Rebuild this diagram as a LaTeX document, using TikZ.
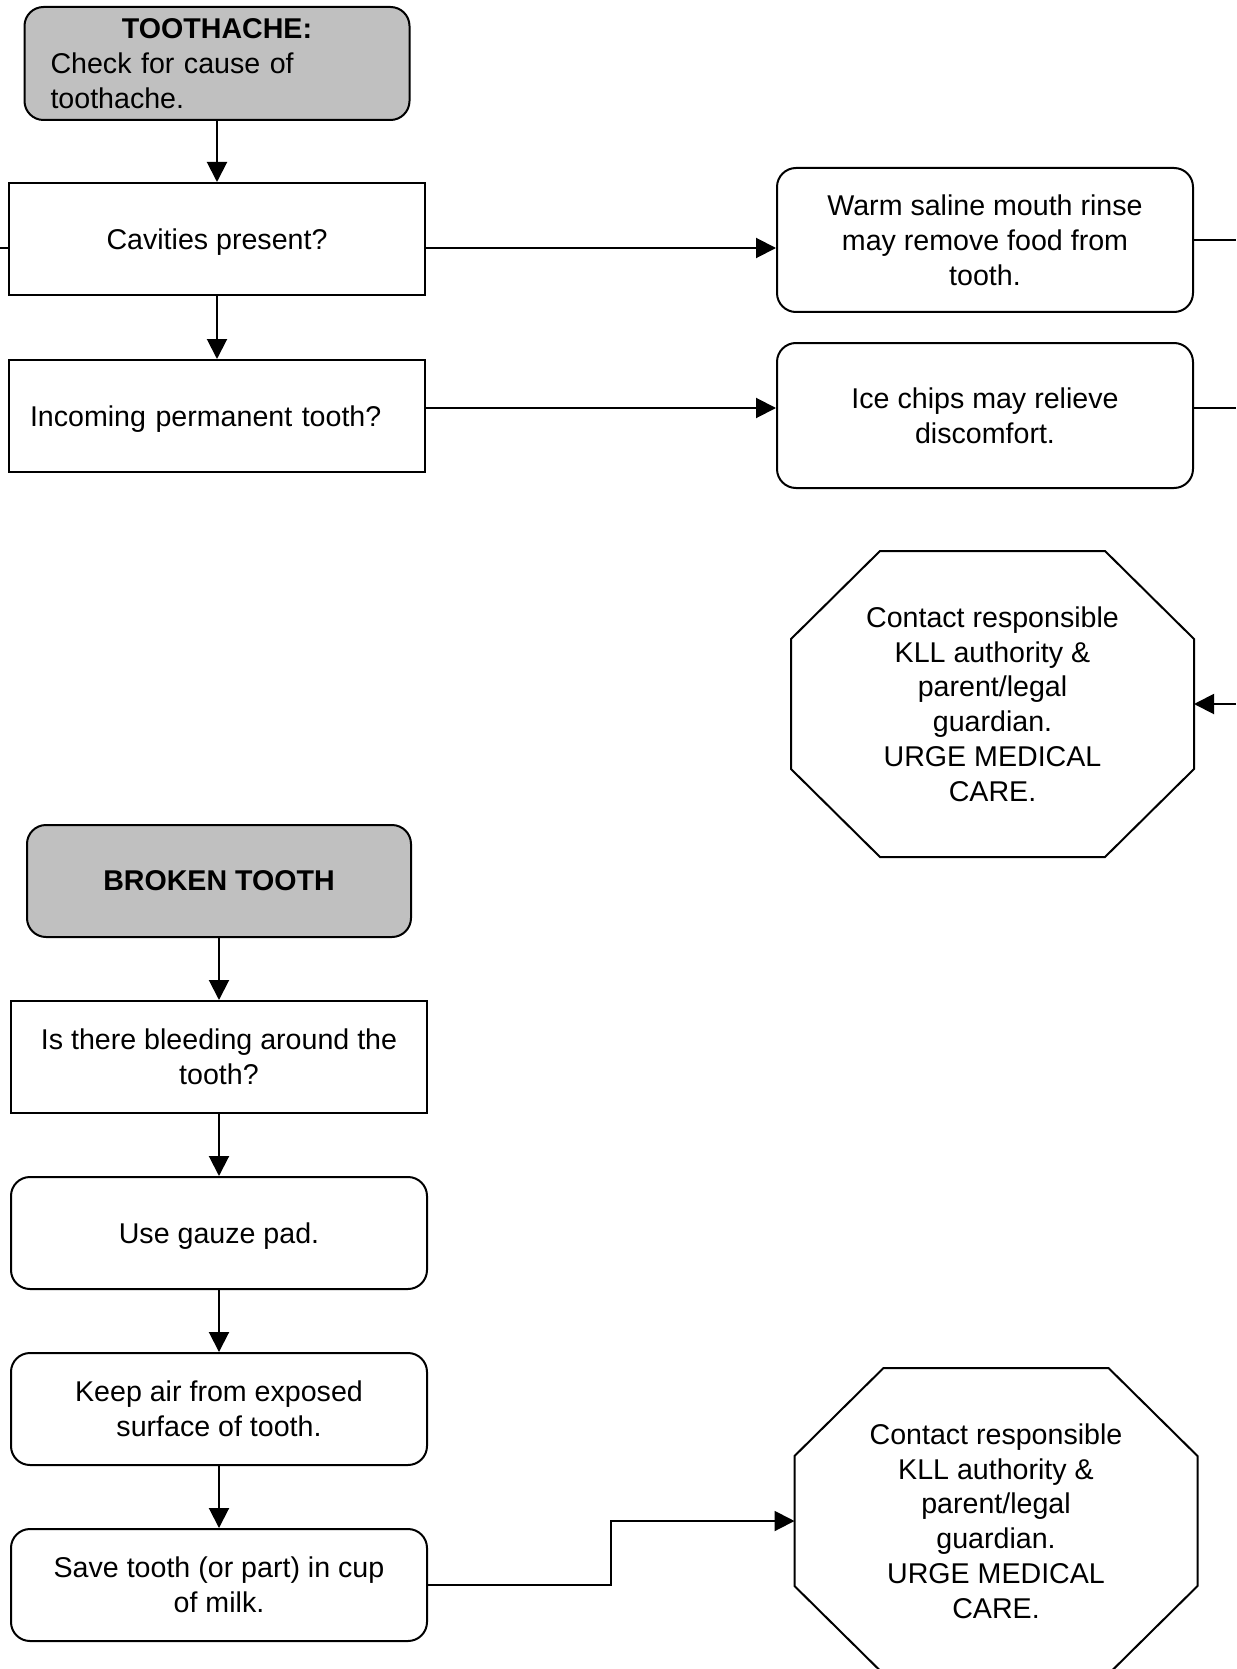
\documentclass[tikz,border=0pt]{standalone}
\usepackage{fontspec}
\setmainfont{Liberation Sans}
\usetikzlibrary{arrows.meta}
\definecolor{headgray}{RGB}{192,192,192}

\begin{document}
\begin{tikzpicture}[x=1pt, y=-1pt, line width=2pt,
  every node/.style={font={\fontsize{28.6pt}{34.8pt}\selectfont}, align=center, inner sep=0pt},
  question/.style={draw, rectangle, minimum width=416pt, minimum height=112pt},
  action/.style={draw, rectangle, rounded corners=19pt, minimum width=416pt, minimum height=112pt},
  header/.style={action, fill=headgray, minimum width=385pt},
  oneline/.style={text depth=0pt},
  stopsign/.style={minimum width=401pt, minimum height=304pt},
  flow/.style={-{Triangle[length=20pt, width=20pt]}}]
\useasboundingbox (0,0) rectangle (1236,1669);
\coordinate (lim) at (0,0);
\coordinate (rim) at (1236,0);

% toothache
\node[header, minimum height=113pt, text width=333pt, align=left] (tooth) at (217,63.5) {\makebox[\hsize]{\bfseries TOOTHACHE:}\\Check for cause of\\toothache.};
\node[question, oneline] (cav) at (217,239) {Cavities present?};
\node[question, oneline, text width=374pt, align=left] (perm) at (217,416) {Incoming permanent tooth?};
\node[action, minimum height=144pt] (rinse) at (985,240) {Warm saline mouth rinse\\may remove food from\\tooth.};
\node[action, minimum height=145pt] (ice) at (985,415.5) {Ice chips may relieve\\discomfort.};
\node[stopsign] (callA) at (992.5,704) {Contact responsible\\KLL authority \&\\parent/legal\\guardian.\\URGE MEDICAL\\CARE.};

% broken tooth
\node[header, minimum width=384pt] (broken) at (219,881) {\bfseries BROKEN TOOTH};
\node[question] (bleed) at (219,1057) {Is there bleeding around the\\tooth?};
\node[action, oneline] (gauze) at (219,1233) {Use gauze pad.};
\node[action] (keep) at (219,1409) {Keep air from exposed\\surface of tooth.};
\node[action] (save) at (219,1585) {Save tooth (or part) in cup\\of milk.};
\node[stopsign] (callB) at (996,1521) {Contact responsible\\KLL authority \&\\parent/legal\\guardian.\\URGE MEDICAL\\CARE.};

% octagons
\foreach \n in {callA,callB}
  \draw ([xshift=89pt]\n.north west) -- ([xshift=-89pt]\n.north east) -- ([yshift=-88pt]\n.north east)
    -- ([yshift=88pt]\n.south east) -- ([xshift=-89pt]\n.south east) -- ([xshift=89pt]\n.south west)
    -- ([yshift=88pt]\n.south west) -- ([yshift=-88pt]\n.north west) -- cycle;

\coordinate (cavL) at ([yshift=-9pt]cav.west);
\coordinate (cavR) at ([yshift=-9pt]cav.east);
\coordinate (permR) at ([yshift=8pt]perm.east);
\coordinate (iceR) at ([yshift=7.5pt]ice.east);
\coordinate (bend) at (611,1521);

\draw[flow] (tooth) -- (cav);
\draw[flow] (cav) -- (perm);
\draw (cavL) -- (cavL -| lim);
\draw[flow] (cavR) -- (cavR -| rinse.west);
\draw[flow] (permR) -- (permR -| ice.west);
\draw (rinse.east) -- (rinse.east -| rim);
\draw (iceR) -- (iceR -| rim);
\draw[flow] (callA.east -| rim) -- (callA.east);

\draw[flow] (broken) -- (bleed);
\draw[flow] (bleed) -- (gauze);
\draw[flow] (gauze) -- (keep);
\draw[flow] (keep) -- (save);
\draw[flow] (save.east) -| (bend) -- (callB.west);
\end{tikzpicture}
\end{document}
